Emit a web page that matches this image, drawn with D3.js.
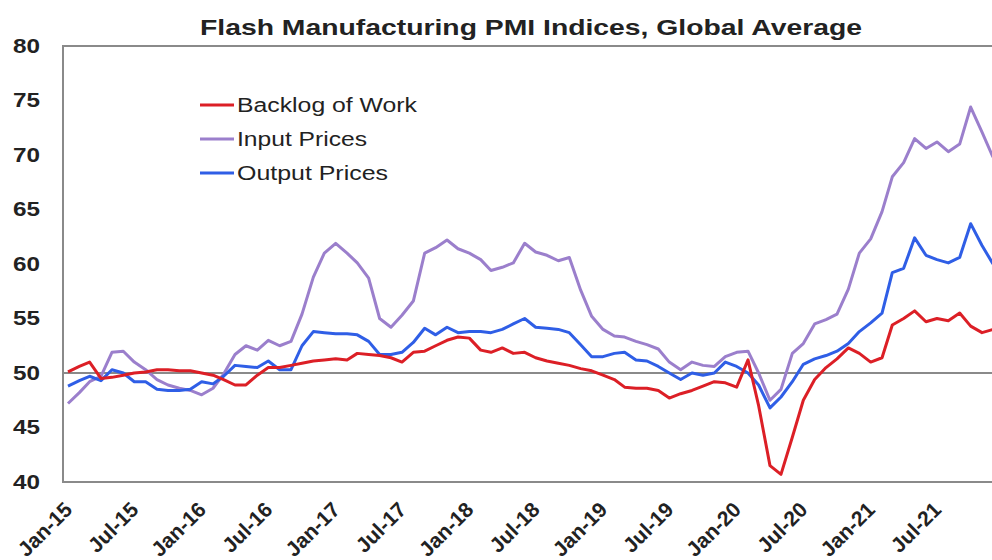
<!DOCTYPE html>
<html>
<head>
<meta charset="utf-8">
<script src="https://cdn.jsdelivr.net/npm/d3@7"></script>
<style>
  body { margin: 0; background: #fff; }
  svg text { font-family: "Liberation Sans", Arial, sans-serif; fill: #222; }
</style>
</head>
<body>
<div id="chart"></div>
<script>
// series, Jan-15 .. Dec-21 (monthly)
var backlog = [
  50.1, 50.6, 51.0, 49.5, 49.6, 49.8, 50.0, 50.1, 50.3, 50.3, 50.2, 50.2, 50.0, 49.8, 49.4, 48.9, 48.9, 49.8,
  50.5, 50.5, 50.7, 50.9, 51.1, 51.2, 51.3, 51.2, 51.8, 51.7, 51.6, 51.4, 51.0, 51.9, 52.0, 52.5, 53.0, 53.3,
  53.2, 52.1, 51.9, 52.3, 51.8, 51.9, 51.4, 51.1, 50.9, 50.7, 50.4, 50.2, 49.8, 49.4, 48.7, 48.6, 48.6, 48.4,
  47.7, 48.1, 48.4, 48.8, 49.2, 49.1, 48.7, 51.2, 47.0, 41.5, 40.7, 44.1, 47.5, 49.4, 50.5, 51.3, 52.3, 51.8,
  51.0, 51.4, 54.4, 55.0, 55.7, 54.7, 55.0, 54.8, 55.5, 54.3, 53.7, 54.0
];
var inputPrices = [
  47.2, 48.2, 49.2, 49.7, 51.9, 52.0, 51.0, 50.3, 49.4, 48.9, 48.6, 48.4, 48.0, 48.6, 49.9, 51.7, 52.5, 52.1,
  53.0, 52.5, 52.9, 55.4, 58.8, 61.0, 61.9, 61.0, 60.1, 58.7, 55.0, 54.2, 55.3, 56.6, 61.0, 61.5, 62.2, 61.4,
  61.0, 60.4, 59.4, 59.7, 60.1, 61.9, 61.1, 60.8, 60.3, 60.6, 57.6, 55.2, 54.0, 53.4, 53.3, 52.9, 52.6, 52.2,
  51.0, 50.3, 51.0, 50.7, 50.6, 51.5, 51.9, 52.0, 50.0, 47.5, 48.5, 51.8, 52.7, 54.5, 54.9, 55.4, 57.7, 61.0,
  62.3, 64.8, 68.0, 69.3, 71.5, 70.6, 71.2, 70.3, 71.0, 74.4, 72.1, 69.8
];
var outputPrices = [
  48.8, 49.3, 49.7, 49.3, 50.3, 50.0, 49.2, 49.2, 48.5, 48.4, 48.4, 48.5, 49.2, 49.0, 49.7, 50.7, 50.6, 50.5,
  51.1, 50.3, 50.3, 52.5, 53.8, 53.7, 53.6, 53.6, 53.5, 52.9, 51.7, 51.7, 51.9, 52.8, 54.1, 53.5, 54.2, 53.7,
  53.8, 53.8, 53.7, 54.0, 54.5, 55.0, 54.2, 54.1, 54.0, 53.7, 52.6, 51.5, 51.5, 51.8, 51.9, 51.2, 51.1, 50.6,
  50.0, 49.4, 50.0, 49.8, 50.0, 51.0, 50.6, 50.0, 48.9, 46.8, 47.8, 49.2, 50.8, 51.3, 51.6, 52.0, 52.7, 53.8,
  54.6, 55.5, 59.2, 59.6, 62.4, 60.8, 60.4, 60.1, 60.6, 63.7, 61.7, 60.0
];
var xTickLabels = ["Jan-15", "Jul-15", "Jan-16", "Jul-16", "Jan-17", "Jul-17", "Jan-18",
                   "Jul-18", "Jan-19", "Jul-19", "Jan-20", "Jul-20", "Jan-21", "Jul-21"];
var yTicks = [40, 45, 50, 55, 60, 65, 70, 75, 80];
var seriesNames = ["Backlog of Work", "Input Prices", "Output Prices"];

var parseMonth = d3.timeParse("%b-%y");
var months = d3.timeMonth.range(parseMonth("Jan-15"), d3.timeMonth.offset(parseMonth("Jan-15"), backlog.length));

var series = [
  {name: seriesNames[1], values: inputPrices, color: "#9b7fcc"},
  {name: seriesNames[2], values: outputPrices, color: "#2f5ee6"},
  {name: seriesNames[0], values: backlog, color: "#dc1f26"}
];

var width = 992, height = 560;
var margin = {top: 46, left: 63, bottom: 78};
var plotRight = 1000;

var svg = d3.select("#chart").append("svg")
  .attr("width", width)
  .attr("height", height);

var x = d3.scaleTime()
  .domain([months[0], months[months.length - 1]])
  .range([68, 993]);

var y = d3.scaleLinear()
  .domain([40, 80])
  .range([height - margin.bottom, margin.top]);

// title
svg.append("text")
  .attr("x", 200)
  .attr("y", 35)
  .attr("font-size", 22)
  .attr("font-weight", "bold")
  .attr("textLength", 662)
  .attr("lengthAdjust", "spacingAndGlyphs")
  .text("Flash Manufacturing PMI Indices, Global Average");

// plot frame
svg.append("rect")
  .attr("x", margin.left)
  .attr("y", y(80))
  .attr("width", plotRight - margin.left)
  .attr("height", y(40) - y(80))
  .attr("fill", "none")
  .attr("stroke", "#8a8a8a")
  .attr("stroke-width", 2);

// 50 line
svg.append("line")
  .attr("x1", margin.left)
  .attr("x2", plotRight)
  .attr("y1", y(50))
  .attr("y2", y(50))
  .attr("stroke", "#8a8a8a")
  .attr("stroke-width", 2);

// y axis
var yAxis = svg.append("g")
  .attr("transform", "translate(" + margin.left + ",0)")
  .call(d3.axisLeft(y).tickValues(yTicks).tickSize(0).tickPadding(23));
yAxis.select(".domain").remove();
yAxis.selectAll("text")
  .attr("font-size", 20)
  .attr("font-weight", "bold")
  .attr("fill", "#222")
  .attr("textLength", 27)
  .attr("lengthAdjust", "spacingAndGlyphs");

// x axis
var xAxis = svg.append("g")
  .attr("transform", "translate(0," + y(40) + ")")
  .call(d3.axisBottom(x)
    .tickValues(xTickLabels.map(parseMonth))
    .tickFormat(d3.timeFormat("%b-%y"))
    .tickSize(0));
xAxis.select(".domain").remove();
xAxis.selectAll("text")
  .attr("font-size", 21)
  .attr("font-weight", "bold")
  .attr("fill", "#222")
  .attr("text-anchor", "end")
  .attr("dy", null)
  .attr("y", null)
  .attr("transform", "translate(5,29) rotate(-45)");

// lines
var line = d3.line()
  .x(function(d, i) { return x(months[i]); })
  .y(function(d) { return y(d); });

svg.selectAll(".series")
  .data(series)
  .enter()
  .append("path")
  .attr("class", "series")
  .attr("d", function(d) { return line(d.values); })
  .attr("fill", "none")
  .attr("stroke", function(d) { return d.color; })
  .attr("stroke-width", 3)
  .attr("stroke-linejoin", "round");

// legend
var legendItems = [
  {name: seriesNames[0], color: "#dc1f26", w: 180},
  {name: seriesNames[1], color: "#9b7fcc", w: 130},
  {name: seriesNames[2], color: "#2f5ee6", w: 151}
];
var legend = svg.append("g")
  .attr("transform", "translate(200,105)");
var item = legend.selectAll("g")
  .data(legendItems)
  .enter()
  .append("g")
  .attr("transform", function(d, i) { return "translate(0," + (i * 34) + ")"; });
item.append("line")
  .attr("x1", 0)
  .attr("x2", 34)
  .attr("stroke", function(d) { return d.color; })
  .attr("stroke-width", 3);
item.append("text")
  .attr("x", 37)
  .attr("y", 7)
  .attr("font-size", 20)
  .attr("textLength", function(d) { return d.w; })
  .attr("lengthAdjust", "spacingAndGlyphs")
  .text(function(d) { return d.name; });
</script>
</body>
</html>
